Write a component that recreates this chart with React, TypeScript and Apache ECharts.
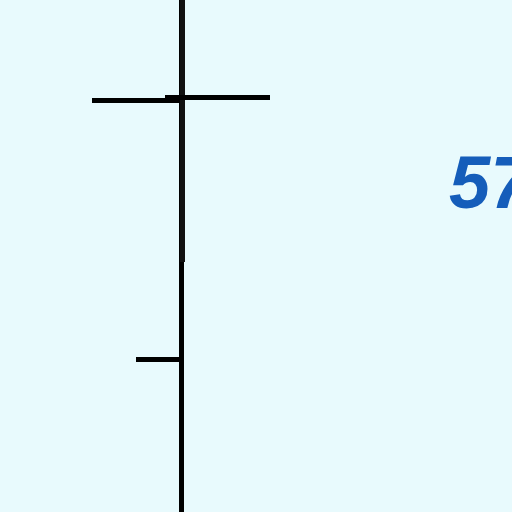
import React, { useEffect, useRef } from "react";
import * as echarts from "echarts";

const yTicks = [0, 2, 4];
const capSegment = [[-16, 2.01], [89, 2.01]];
const upperStem = [[1.5, 1.375], [1.5, 4]];
const valueLabel = "57";

export default function App() {
  const ref = useRef<HTMLDivElement>(null);
  useEffect(() => {
    const chart = echarts.init(ref.current!, null, { renderer: "svg" });
    chart.setOption({
      animation: false,
      backgroundColor: "#E8FAFD",
      grid: { left: 0, right: 0, top: -418, height: 1036, outerBoundsMode: "none", containLabel: false },
      xAxis: { type: "value", min: -181, max: 331, show: false, splitLine: { show: false } },
      yAxis: {
        type: "value",
        min: yTicks[0],
        max: yTicks[yTicks.length - 1],
        interval: 2,
        axisLine: { show: true, onZero: true, lineStyle: { color: "#000", width: 5 } },
        axisTick: { show: true, length: 89, lineStyle: { color: "#000", width: 5 } },
        minorTick: { show: true, splitNumber: 2, length: 45, lineStyle: { color: "#000", width: 5 } },
        axisLabel: { show: false },
        splitLine: { show: false },
        minorSplitLine: { show: false },
      },
      series: [
        {
          type: "line",
          data: upperStem,
          symbol: "none",
          lineStyle: { color: "#111", width: 5 },
        },
        {
          type: "line",
          data: capSegment,
          symbol: "none",
          lineStyle: { color: "#000", width: 5 },
        },
      ],
      graphic: [
        {
          type: "text",
          x: 449,
          y: 182,
          style: {
            text: valueLabel,
            fill: "#155DBA",
            font: "italic bold 74px 'Liberation Sans', Arial, sans-serif",
            textVerticalAlign: "middle",
            verticalAlign: "middle",
          },
        },
      ],
    });
    return () => chart.dispose();
  }, []);
  return <div ref={ref} style={{ position: "absolute", left: 0, top: 0, width: 512, height: 512 }} />;
}
